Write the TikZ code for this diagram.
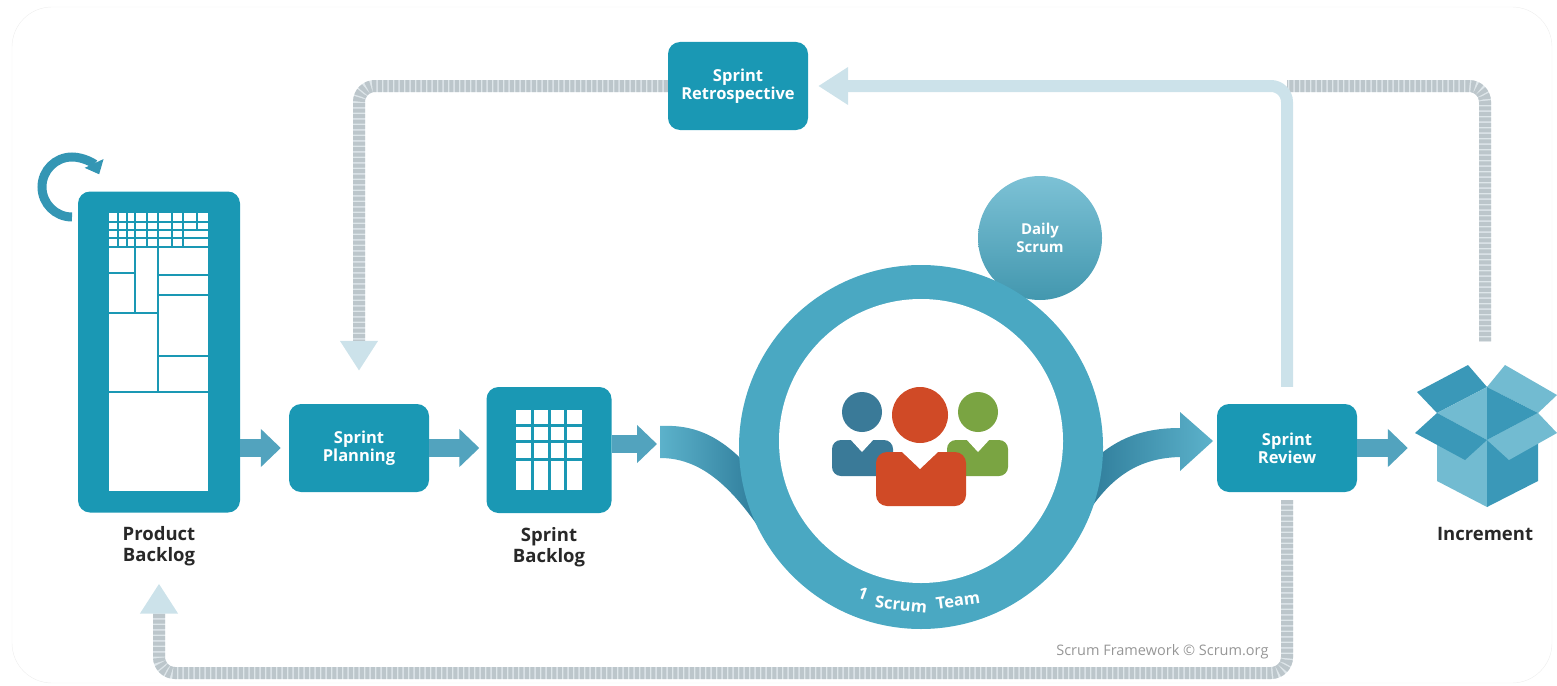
\documentclass[tikz,border=0pt]{standalone}
\usepackage{fontspec}
\setmainfont{Open Sans}
\usetikzlibrary{arrows.meta,positioning}

\definecolor{scrumteal}{RGB}{26,152,180}
\definecolor{ringteal}{RGB}{74,168,194}
\definecolor{loopteal}{RGB}{52,150,180}
\definecolor{arrowteal}{RGB}{82,163,190}
\definecolor{ribbondark}{RGB}{45,122,152}
\definecolor{ribbonlight}{RGB}{92,178,203}
\definecolor{ladderbg}{RGB}{222,230,234}
\definecolor{laddertick}{RGB}{188,198,203}
\definecolor{feedblue}{RGB}{204,226,234}
\definecolor{labelgray}{RGB}{40,40,40}
\definecolor{notegray}{RGB}{150,150,150}
\definecolor{personblue}{RGB}{58,122,152}
\definecolor{personred}{RGB}{208,74,38}
\definecolor{persongreen}{RGB}{122,164,66}
\definecolor{boxlight}{RGB}{114,187,209}
\definecolor{boxdark}{RGB}{58,152,184}

\newcommand\boxtext{\fontsize{16.5}{18}\selectfont\bfseries}
\newcommand\dailytext{\fontsize{15}{18}\selectfont\bfseries}
\newcommand\captext{\fontsize{18.5}{21}\selectfont\bfseries}
\newcommand\notetext{\fontsize{14.5}{16}\selectfont}
\newcommand\teamtext{\fontsize{16.5}{17}\selectfont\bfseries}

\begin{document}
\begin{tikzpicture}[x=1pt,y=-1pt,
	sbox/.style={fill=scrumteal, rounded corners=12pt, minimum width=140pt,
		minimum height=88pt, text=white, font=\boxtext, align=center},
	caption/.style={text=labelgray, font=\captext, align=center, inner sep=0pt},
	teamword/.style={text=white, font=\teamtext, inner sep=0pt},
	fat/.style={draw=arrowteal, line width=18pt, -{Triangle[width=37pt,length=20pt]}},
	ladder/.style={draw=ladderbg, line width=12pt, rounded corners=16pt,
		postaction={draw=laddertick, dash pattern=on 4pt off 1.5pt, -, shorten >=#1}},
	ladder/.default=0pt,
	feed/.style={draw=feedblue, line width=12pt, rounded corners=16pt,
		-{Triangle[width=36pt,length=30pt]}},
	ladtip/.style={-{Triangle[width=36pt,length=30pt,color=feedblue]}},
	gridline/.style={draw=scrumteal, line width=2pt}]
\useasboundingbox (0,0) rectangle (1557,685);
\draw[black!7, rounded corners=40pt] (12,7) rectangle (1552,683);

% backlog loop
\draw[loopteal, line width=9pt, -{Triangle[width=20pt,length=12pt]}]
	(72,187) ++(0,30) arc[start angle=90, end angle=335, radius=30];

% boxes
\node[fill=scrumteal, rounded corners=12pt, minimum width=162pt, minimum height=321pt] (pb) at (159,352) {};
\fill[white] (109,213) rectangle (208,491);
\foreach \x in {118,127,147,172,183}
	\draw[gridline] (\x,213) -- (\x,247);
\draw[gridline] (197,213) -- (197,230);
\draw[gridline] (135,213) -- (135,313);
\draw[gridline] (158,213) -- (158,392);
\foreach \y in {222,230,238,247}
	\draw[gridline] (109,\y) -- (208,\y);
\draw[gridline] (109,273) -- (135,273);
\draw[gridline] (158,275) -- (208,275);
\draw[gridline] (158,295) -- (208,295);
\draw[gridline] (109,313) -- (158,313);
\draw[gridline] (158,356) -- (208,356);
\draw[gridline] (109,392) -- (208,392);
\node[caption, below=14pt of pb] (pbl) {Product\\Backlog};

\node[sbox] (sp) at (359,448) {Sprint\\Planning};

\node[fill=scrumteal, rounded corners=12pt, minimum width=125pt, minimum height=126pt] (sb) at (549,450) {};
\fill[white] (516,410) rectangle (582,490);
\foreach \x in {532.5,549,565.5}
	\draw[scrumteal, line width=3pt] (\x,410) -- (\x,490);
\foreach \y in {425,441,459}
	\draw[scrumteal, line width=3pt] (516,\y) -- (582,\y);
\node[caption, below=14pt of sb] (sbl) {Sprint\\Backlog};

\node[sbox] (retro) at (738,86) {Sprint\\Retrospective};
\node[sbox] (sr) at (1287,448) {Sprint\\Review};

% sprint
\coordinate (rin) at (660,444);
\shade[left color=ribbonlight, right color=ribbondark]
	(660,426) .. controls (700,424) and (728,440) .. (762,482) -- (762,532)
	.. controls (730,485) and (700,458) .. (660,458) -- cycle;
\shade[left color=ribbondark, right color=ribbonlight]
	(1082,522) .. controls (1110,475) and (1140,458) .. (1180,457) -- (1180,471)
	-- (1213,441) -- (1180,412) -- (1180,428)
	.. controls (1140,428) and (1110,440) .. (1082,472) -- cycle;

\node[circle, top color=ribbonlight!80!white, bottom color=ringteal!90!black, text=white,
	font=\dailytext, align=center, minimum size=124pt] (ds) at (1040,238) {Daily\\Scrum};
\node[circle, fill=ringteal, minimum size=364pt, inner sep=0pt] (team) at (921,447) {};
\fill[white] ([yshift=6pt]team.center) circle (142);
\node[teamword, rotate=-20] (one) at ([shift={(111.5:158)}]team.center) {1};
\node[teamword, rotate=-6] (scrum) at ([shift={(97.2:159)}]team.center) {Scrum};
\node[teamword, rotate=8] (tm) at ([shift={(76.5:158)}]team.center) {Team};

% team
\fill[personblue] (862,412) circle (20);
\fill[personblue, rounded corners=9pt] (832,476) -- (832,440) -- (893,440) -- (893,476) -- cycle;
\fill[white] (850,439) -- (862,452) -- (874,439) -- cycle;
\fill[persongreen] (978,412) circle (20);
\fill[persongreen, rounded corners=9pt] (947,476) -- (947,440) -- (1008,440) -- (1008,476) -- cycle;
\fill[white] (966,439) -- (978,452) -- (990,439) -- cycle;
\fill[personred] (920,415) circle (28);
\fill[personred, rounded corners=11pt] (876,506) -- (876,452) -- (966,452) -- (966,506) -- cycle;
\fill[white] (901,451) -- (920,469) -- (939,451) -- cycle;

% increment
\node[minimum width=144pt, minimum height=145pt] (inc) at (1485,434) {};
\fill[boxdark] (1437,413) -- (1487,387) -- (1468,365) -- (1417,392) -- cycle;
\fill[boxlight] (1487,387) -- (1538,413) -- (1557,395) -- (1505,365) -- cycle;
\fill[boxlight] (1437,413) -- (1487,387) -- (1487,440) -- cycle;
\fill[boxdark] (1487,387) -- (1538,413) -- (1487,440) -- cycle;
\fill[boxlight] (1437,413) -- (1487,440) -- (1487,507) -- (1437,481) -- cycle;
\fill[boxdark] (1487,440) -- (1538,413) -- (1538,481) -- (1487,507) -- cycle;
\fill[boxdark] (1437,413) -- (1487,440) -- (1465,460) -- (1415,433) -- cycle;
\fill[boxlight] (1487,440) -- (1538,413) -- (1557,433) -- (1509,460) -- cycle;
\node[caption, below=20pt of inc] (incl) {Increment};

% flow
\draw[fat, shorten >=8pt] (pb.east |- sp.west) -- (sp.west);
\draw[fat, shorten >=7pt] (sp.east) -- (sb.west |- sp.east);
\draw[fat, shorten >=3pt] (sb.east |- rin) -- (rin);
\draw[fat, shorten >=5pt] (sr.east) -- (inc.west |- sr.east);

% feedback
\coordinate (jn) at (sr.north |- retro.east);
\coordinate (bl) at (159,673);
\draw[ladder=63pt, ladtip, shorten >=33pt] (retro.west) -| (sp.north);
\draw[ladder, shorten <=20pt] (inc.north) |- (jn);
\draw[feed, shorten <=17pt, shorten >=10pt] (sr.north) |- (retro.east);
\draw[ladder=47pt, ladtip, shorten <=8pt, shorten >=17pt] (sr.south) |- (bl) -- (pbl.south);

\node[text=notegray, font=\notetext, anchor=east] (note) at (1272,652) {Scrum Framework © Scrum.org};
\end{tikzpicture}
\end{document}
